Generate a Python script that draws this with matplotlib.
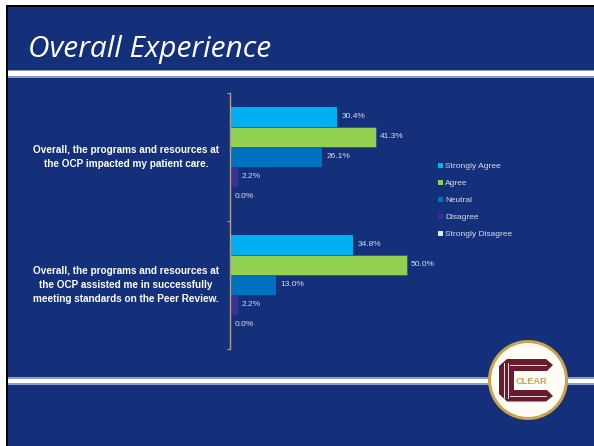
import numpy as np
import matplotlib
matplotlib.use("Agg")
import matplotlib.pyplot as plt
import matplotlib.transforms as mtransforms
from matplotlib.patches import Rectangle, Circle, Polygon, Patch

# data
questions = [
    "Overall, the programs and resources at\nthe OCP impacted my patient care.",
    "Overall, the programs and resources at\nthe OCP assisted me in successfully\nmeeting standards on the Peer Review.",
]
responses = ["Strongly Agree", "Agree", "Neutral", "Disagree", "Strongly Disagree"]
values = {
    "Strongly Agree": [30.4, 34.8],
    "Agree": [41.3, 50.0],
    "Neutral": [26.1, 13.0],
    "Disagree": [2.2, 2.2],
    "Strongly Disagree": [0.0, 0.0],
}
colors = ["#00B0F0", "#92D050", "#0070C0", "#3B2F93", "#DDEBF5"]

navy = "#15307A"
W, H = 594, 446
fig = plt.figure(figsize=(W / 100, H / 100), dpi=100)
fig.patch.set_facecolor("white")

# slide background drawn in pixel space
bg = fig.add_axes([0, 0, 1, 1], zorder=0)
bg.set_xlim(0, W)
bg.set_ylim(H, 0)
bg.axis("off")
bg.add_patch(Rectangle((7, 6), W - 7, H - 6, color=navy, lw=0))
bg.add_patch(Rectangle((5.5, 5), 2.8, H, color="black", lw=0))
bg.add_patch(Rectangle((5.5, 4.5), W, 2.8, color="black", lw=0))
for y0, y1 in [(69.5, 77.5), (377, 384.5)]:
    bg.add_patch(Rectangle((8.3, y0), W, y1 - y0, color="#8C9CC6", lw=0))
    bg.add_patch(Rectangle((8.3, y0 + 1.5), W, y1 - y0 - 3, color="white", lw=0))

bg.text(28, 57, "Overall Experience", color="white", fontsize=21.5,
        style="italic", family="Open Sans", va="baseline", ha="left")

# logo
cx, cy = 528, 380
bg.add_patch(Circle((cx, cy), 40, color="#C9A24A", lw=0))
bg.add_patch(Circle((cx, cy), 37, color="#FFFDF5", lw=0))
maroon = "#6A1B2E"
c_shape = [(507, 359), (546, 359), (553, 365), (547, 371), (514, 371), (514, 390),
           (547, 390), (553, 396), (546, 401.5), (507, 401.5), (499, 394), (499, 366)]
bg.add_patch(Polygon(c_shape, closed=True, color=maroon, lw=0))
for xs in [503.5, 508]:
    bg.plot([xs, xs], [363, 398], color="white", lw=0.6)
for ys in [365, 395.5]:
    bg.plot([510, 546], [ys, ys], color="white", lw=0.6)
bg.text(531, 381, "CLEAR", color="#C4A352", fontsize=6.6, fontweight="bold",
        ha="center", va="center", family="Liberation Sans")

# chart
ax_left, ax_top, ax_bottom, ax_w = 230, 93, 349, 220
ax = fig.add_axes([ax_left / W, (H - ax_bottom) / H, ax_w / W, (ax_bottom - ax_top) / H], zorder=2)
ax.set_facecolor("none")
px_per_pct = 3.535
ax.set_xlim(0, ax_w / px_per_pct)
ax.set_ylim(1.5, -0.5)

bar_h = 20 / 128
ypos = np.arange(len(questions))
for i, (resp, col) in enumerate(zip(responses, colors)):
    yy = ypos + (i - 2) * bar_h
    vals = values[resp]
    ax.barh(yy, vals, height=bar_h, color=col, edgecolor="#2B5A8C" if resp == "Agree" else col,
            linewidth=0.6 if resp == "Agree" else 0, label=resp)
    for y, v in zip(yy, vals):
        ax.annotate(f"{v:.1f}%", (v, y), xytext=(3, 0), textcoords="offset points",
                    va="center", ha="left", color="#D9DDEA", fontsize=6,
                    family="Liberation Sans")

for s in ["top", "right", "bottom"]:
    ax.spines[s].set_visible(False)
ax.spines["left"].set_color("#A8A088")
ax.spines["left"].set_linewidth(1)
ax.set_xticks([])
ax.set_yticks([-0.5, 0.5, 1.5])
ax.set_yticklabels([])
ax.tick_params(axis="y", direction="out", length=2.2, color="#A8A088", width=0.8)

trans = mtransforms.blended_transform_factory(ax.transAxes, ax.transData)
for y, q in zip(ypos, questions):
    ax.text(-104 / ax_w, y, q, transform=trans, ha="center", va="center",
            multialignment="center", color="white", fontsize=7.2, fontweight="bold",
            family="Liberation Sans", linespacing=1.52)

handles = [Patch(facecolor=c, edgecolor="none", label=r) for r, c in zip(responses, colors)]
leg = fig.legend(handles=handles, loc="center left", bbox_to_anchor=(438 / W, 1 - 200.5 / H),
                 bbox_transform=fig.transFigure, frameon=False,
                 labelspacing=1.13, handlelength=0.6, handleheight=0.6, handletextpad=0.25,
                 borderpad=0, borderaxespad=0, prop={"family": "Liberation Sans", "size": 6})
for t in leg.get_texts():
    t.set_color("#D9DDEA")

fig.savefig("out.png", dpi=100, facecolor=fig.get_facecolor())
